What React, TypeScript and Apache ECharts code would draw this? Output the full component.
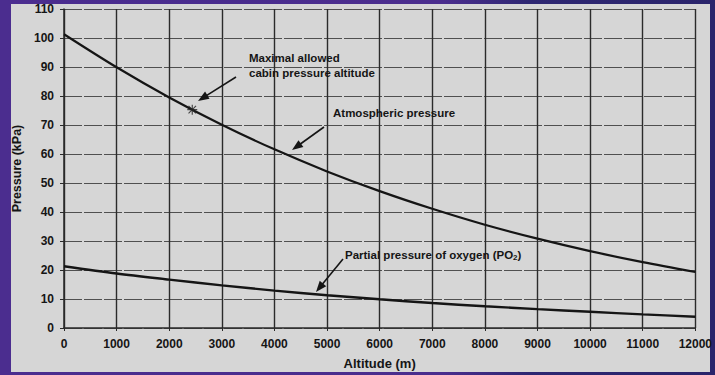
import React, { useEffect, useRef } from "react";
import * as echarts from "echarts";

const altitudes = [0, 1000, 2000, 3000, 4000, 5000, 6000, 7000, 8000, 9000, 10000, 11000, 12000];
const atmosphericPressure = [101.3, 89.9, 79.5, 70.1, 61.6, 54.0, 47.2, 41.1, 35.6, 30.8, 26.5, 22.7, 19.3];
const oxygenPressure = [21.3, 18.8, 16.7, 14.7, 12.9, 11.3, 9.9, 8.6, 7.5, 6.5, 5.6, 4.7, 3.9];
const markerAltitude = [2438];
const markerPressure = [75.3];

const FONT = '"Liberation Sans", Arial, Helvetica, sans-serif';
const INK = "#151515";

function arrow(x1: number, y1: number, x2: number, y2: number) {
  const dx = x2 - x1;
  const dy = y2 - y1;
  const len = Math.sqrt(dx * dx + dy * dy);
  const ux = dx / len;
  const uy = dy / len;
  const hl = 11;
  const hw = 4.2;
  const bx = x2 - ux * hl;
  const by = y2 - uy * hl;
  const px = -uy;
  const py = ux;
  return [
    {
      type: "line",
      shape: { x1, y1, x2: bx + ux * 2, y2: by + uy * 2 },
      style: { stroke: INK, lineWidth: 1.6 },
      z: 50,
    },
    {
      type: "polygon",
      shape: {
        points: [
          [x2, y2],
          [bx + px * hw, by + py * hw],
          [bx - px * hw, by - py * hw],
        ],
      },
      style: { fill: INK },
      z: 50,
    },
  ];
}

function label(text: string, x: number, y: number) {
  return {
    type: "text",
    x,
    y,
    z: 50,
    style: {
      text,
      fill: INK,
      fontSize: 11.5,
      fontWeight: "bold",
      fontFamily: FONT,
      verticalAlign: "middle",
      align: "left",
    },
  };
}

const starPath =
  "path://M5.3,0 L6.7,0 L6.7,12 L5.3,12 Z M0,5.3 L12,5.3 L12,6.7 L0,6.7 Z M2,1 L11,10 L10,11 L1,2 Z M10,1 L11,2 L2,11 L1,10 Z";

export default function App() {
  const ref = useRef<HTMLDivElement>(null);
  useEffect(() => {
    if (!ref.current) return;
    const chart = echarts.init(ref.current, undefined, { renderer: "svg" });
    const atm = altitudes.map((a, i) => [a, atmosphericPressure[i]]);
    const o2 = altitudes.map((a, i) => [a, oxygenPressure[i]]);
    const marker = markerAltitude.map((a, i) => [a, markerPressure[i]]);
    chart.setOption({
      animation: false,
      backgroundColor: "transparent",
      grid: { left: 64, right: 18, top: 9, bottom: 46, containLabel: false },
      xAxis: {
        type: "value",
        min: 0,
        max: 12000,
        interval: 1000,
        name: "Altitude (m)",
        nameLocation: "middle",
        nameGap: 29,
        nameTextStyle: { color: INK, fontSize: 13, fontWeight: "bold", fontFamily: FONT },
        axisLine: { show: true, lineStyle: { color: "#2a2a2a", width: 1.5 } },
        axisTick: { show: true, length: 3, inside: false, lineStyle: { color: "#2a2a2a" } },
        axisLabel: {
          color: INK,
          fontSize: 12,
          fontWeight: "bold",
          fontFamily: FONT,
          margin: 10,
          formatter: (v: number) => String(v),
        },
        splitLine: { show: true, lineStyle: { color: "#2b2b2b", width: 1.4 } },
      },
      yAxis: {
        type: "value",
        min: 0,
        max: 110,
        interval: 10,
        name: "Pressure (kPa)",
        nameLocation: "middle",
        nameGap: 40,
        nameRotate: 90,
        nameTextStyle: { color: INK, fontSize: 12.5, fontWeight: "bold", fontFamily: FONT },
        axisLine: { show: true, lineStyle: { color: "#2a2a2a", width: 1.5 } },
        axisTick: { show: true, length: 4, lineStyle: { color: "#2a2a2a" } },
        axisLabel: { color: INK, fontSize: 12, fontWeight: "bold", fontFamily: FONT, margin: 10 },
        splitLine: { show: true, lineStyle: { color: "#505050", width: 1.2, type: [18, 2] } },
      },
      series: [
        {
          type: "line",
          name: "Atmospheric pressure",
          data: atm,
          smooth: 0.3,
          showSymbol: false,
          lineStyle: { color: INK, width: 2.2 },
          z: 10,
        },
        {
          type: "line",
          name: "Partial pressure of oxygen",
          data: o2,
          smooth: 0.3,
          showSymbol: false,
          lineStyle: { color: INK, width: 2.4 },
          z: 10,
        },
        {
          type: "scatter",
          name: "Maximal allowed cabin pressure altitude",
          data: marker,
          symbol: starPath,
          symbolSize: 10,
          itemStyle: { color: "#222" },
          z: 11,
        },
      ],
      graphic: [
        {
          type: "rect",
          shape: { x: 11, y: 4, width: 699, height: 368 },
          style: { fill: "#d6d6d6" },
          z: -100,
          silent: true,
        },
        label("Maximal allowed", 249, 58),
        label("cabin pressure altitude", 249, 73),
        ...arrow(236, 77, 198, 101),
        label("Atmospheric pressure", 333, 113),
        ...arrow(324, 127, 292, 150),
        {
          type: "text",
          x: 345,
          y: 255,
          z: 50,
          style: {
            text: "{a|Partial pressure of oxygen (PO}{s|2}{a|)}",
            verticalAlign: "middle",
            align: "left",
            rich: {
              a: { fill: INK, color: INK, fontSize: 11.5, fontWeight: "bold", fontFamily: FONT },
              s: { fill: INK, color: INK, fontSize: 8, fontWeight: "bold", fontFamily: FONT, padding: [5, 0, 0, 0] },
            },
          },
        },
        ...arrow(343, 259, 316, 292),
      ],
    });
    return () => chart.dispose();
  }, []);
  return (
    <div
      style={{
        position: "fixed",
        left: 0,
        top: 0,
        width: 715,
        height: 375,
        background: "linear-gradient(to right, #4b2d8f 0%, #4a2d8d 62%, #2e2772 74%, #2a246b 100%)",
      }}
    >
      <div ref={ref} style={{ width: 715, height: 375 }} />
    </div>
  );
}
